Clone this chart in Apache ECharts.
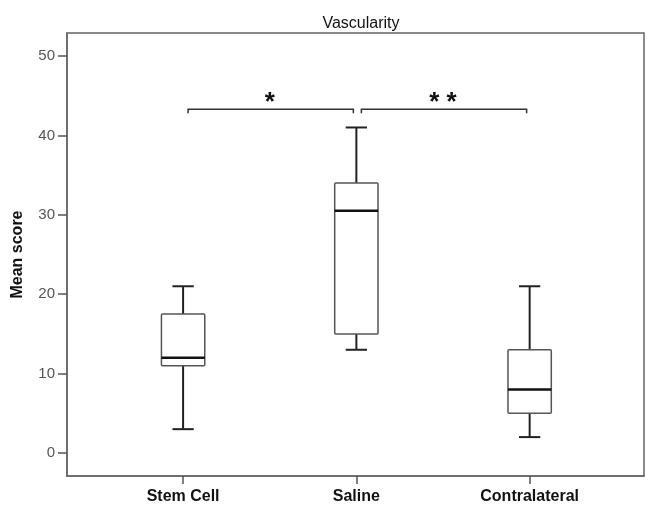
<!DOCTYPE html>
<html>
<head>
<meta charset="utf-8">
<script src="https://cdn.jsdelivr.net/npm/echarts@6/dist/echarts.min.js"></script>
<style>html,body{margin:0;padding:0;background:#fff}#c{width:654px;height:517px}</style>
</head>
<body>
<div id="c"></div>
<script>
// ---- data ----
const categories = ['Stem Cell', 'Saline', 'Contralateral'];
const whiskerLow = [3, 13, 2];
const q1 = [11, 15, 5];
const median = [12, 30.5, 8];
const q3 = [17.5, 34, 13];
const whiskerHigh = [21, 41, 21];
const yTicks = [0, 10, 20, 30, 40, 50];
const bracketFrom = [0, 1];
const bracketTo = [1, 2];
const bracketLabels = ['*', '**'];
const bracketLevel = [43.3, 43.3];
const labelLevel = [44.8, 44.8];

const boxData = categories.map((c, i) => [i, whiskerLow[i], q1[i], median[i], q3[i], whiskerHigh[i]]);
const bracketData = bracketFrom.map((f, i) => [f, bracketTo[i], bracketLevel[i], labelLevel[i], i]);

const FONT = '"Liberation Sans", Arial, sans-serif';
const chart = echarts.init(document.getElementById('c'));
chart.setOption({
  animation: false,
  backgroundColor: '#fff',
  title: {
    text: 'Vascularity', left: 356, top: 11, textAlign: 'center',
    textStyle: { fontFamily: FONT, fontSize: 16, fontWeight: 'normal', color: '#111' }
  },
  grid: {
    left: 67, right: 10, top: 33, bottom: 41,
    show: true, borderColor: '#666', borderWidth: 1.5, backgroundColor: 'transparent'
  },
  xAxis: {
    type: 'value', min: -0.67, max: 2.66,
    splitLine: { show: false },
    axisLine: { show: true, onZero: false, lineStyle: { color: '#666', width: 1.5 } },
    axisTick: { show: true, customValues: categories.map((c, i) => i), length: 8, lineStyle: { color: '#555', width: 1.5 } },
    axisLabel: {
      customValues: categories.map((c, i) => i),
      formatter: v => categories[Math.round(v)],
      margin: 13, fontFamily: FONT, fontSize: 16, fontWeight: 'bold', color: '#111'
    }
  },
  yAxis: {
    type: 'value', min: -2.9, max: 52.9,
    name: 'Mean score', nameLocation: 'middle', nameGap: 41,
    nameTextStyle: { fontFamily: FONT, fontSize: 16, fontWeight: 'bold', color: '#111' },
    splitLine: { show: false },
    axisLine: { show: true, onZero: false, lineStyle: { color: '#666', width: 1.5 } },
    axisTick: { show: true, customValues: yTicks, length: 9, lineStyle: { color: '#555', width: 1.5 } },
    axisLabel: { customValues: yTicks, margin: 12, fontFamily: FONT, fontSize: 15, color: '#555' }
  },
  series: [
    {
      type: 'custom',
      data: boxData,
      encode: { x: 0, y: [1, 2, 3, 4, 5] },
      clip: false,
      renderItem: function (params, api) {
        const x = api.value(0);
        const c = v => api.coord([x, v]);
        const bw = api.size([0.25, 0])[0];
        const cw = api.size([0.123, 0])[0];
        const pLow = c(api.value(1)), pQ1 = c(api.value(2)), pMed = c(api.value(3)),
              pQ3 = c(api.value(4)), pHigh = c(api.value(5));
        const cx = pLow[0];
        const wStyle = { stroke: '#222', lineWidth: 2 };
        return {
          type: 'group',
          children: [
            { type: 'line', shape: { x1: cx, y1: pQ3[1], x2: cx, y2: pHigh[1] }, style: wStyle },
            { type: 'line', shape: { x1: cx, y1: pQ1[1], x2: cx, y2: pLow[1] }, style: wStyle },
            { type: 'line', shape: { x1: cx - cw / 2, y1: pHigh[1], x2: cx + cw / 2, y2: pHigh[1] }, style: wStyle },
            { type: 'line', shape: { x1: cx - cw / 2, y1: pLow[1], x2: cx + cw / 2, y2: pLow[1] }, style: wStyle },
            { type: 'rect', shape: { x: cx - bw / 2, y: pQ3[1], width: bw, height: pQ1[1] - pQ3[1], r: 1 },
              style: { fill: '#fff', stroke: '#555', lineWidth: 1.5 } },
            { type: 'line', shape: { x1: cx - bw / 2, y1: pMed[1], x2: cx + bw / 2, y2: pMed[1] },
              style: { stroke: '#111', lineWidth: 2.5 } }
          ]
        };
      }
    },
    {
      type: 'custom',
      data: bracketData,
      encode: { x: [0, 1], y: [2, 3] },
      clip: false,
      renderItem: function (params, api) {
        const a = api.coord([api.value(0), api.value(2)]);
        const b = api.coord([api.value(1), api.value(2)]);
        const t = api.coord([(api.value(0) + api.value(1)) / 2, api.value(3)]);
        const x1 = a[0] + 5, x2 = b[0] - 3, y = a[1];
        const st = { stroke: '#333', lineWidth: 1.5, fill: 'none' };
        return {
          type: 'group',
          children: [
            { type: 'polyline', shape: { points: [[x1, y + 4], [x1, y], [x2, y], [x2, y + 4]] }, style: st },
            { type: 'text', x: t[0], y: t[1] + 6, style: {
                text: bracketLabels[api.value(4)].split('').join(' '), align: 'center', verticalAlign: 'middle',
                font: 'bold 26px "Liberation Sans", Arial, sans-serif', fill: '#111' } }
          ]
        };
      }
    }
  ]
});
</script>
</body>
</html>
